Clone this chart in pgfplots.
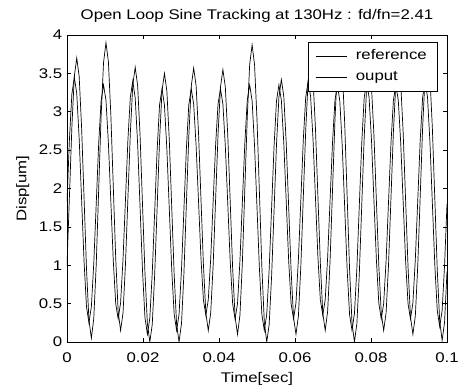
\documentclass[border=0pt]{standalone}
\usepackage{pgfplots}
\pgfplotsset{compat=1.18}
\usepackage{pgfplotstable}
\usepackage{fontspec}
\setmainfont{Liberation Sans}[FakeStretch=1.2]

\pgfplotstableread{
t ref out
0 1.83 1.00
0.000641 2.64 1.90
0.001282 3.23 2.80
0.001923 3.45 3.46
0.002564 3.24 3.70
0.003205 2.65 3.46
0.003846 1.85 2.79
0.004487 1.05 1.88
0.005128 0.46 0.96
0.005769 0.25 0.29
0.006410 0.46 0.05
0.007051 1.03 0.31
0.007692 1.80 1.01
0.008333 2.58 1.98
0.008974 3.14 2.94
0.009615 3.35 3.64
0.010256 3.15 3.90
0.010897 2.59 3.65
0.011538 1.83 2.96
0.012179 1.06 2.03
0.012821 0.50 1.09
0.013462 0.30 0.40
0.014103 0.51 0.15
0.014744 1.08 0.38
0.015385 1.85 1.01
0.016026 2.63 1.87
0.016667 3.19 2.72
0.017308 3.40 3.35
0.017949 3.18 3.58
0.018590 2.58 3.34
0.019231 1.75 2.69
0.019872 0.93 1.79
0.020513 0.32 0.90
0.021154 0.10 0.24
0.021795 0.31 0.00
0.022436 0.90 0.23
0.023077 1.70 0.88
0.023718 2.50 1.75
0.024359 3.09 2.63
0.025 3.30 3.27
0.025641 3.09 3.50
0.026282 2.51 3.27
0.026923 1.73 2.63
0.027564 0.94 1.75
0.028205 0.36 0.88
0.028846 0.15 0.23
0.029487 0.36 0.00
0.030128 0.94 0.24
0.030769 1.73 0.89
0.031410 2.51 1.79
0.032051 3.09 2.68
0.032692 3.30 3.33
0.033333 3.10 3.57
0.033974 2.56 3.34
0.034615 1.83 2.72
0.035256 1.09 1.86
0.035897 0.55 1.01
0.036538 0.35 0.38
0.037179 0.55 0.15
0.037821 1.09 0.38
0.038462 1.83 1.00
0.039103 2.56 1.85
0.039744 3.10 2.70
0.040385 3.30 3.32
0.041026 3.10 3.55
0.041667 2.55 3.32
0.042308 1.80 2.69
0.042949 1.05 1.83
0.043590 0.50 0.96
0.044231 0.30 0.33
0.044872 0.50 0.10
0.045513 1.06 0.35
0.046154 1.83 1.04
0.046795 2.59 1.99
0.047436 3.15 2.93
0.048077 3.35 3.62
0.048718 3.14 3.87
0.049359 2.55 3.61
0.05 1.75 2.90
0.050641 0.95 1.94
0.051282 0.36 0.97
0.051923 0.15 0.26
0.052564 0.36 0.00
0.053205 0.95 0.23
0.053846 1.75 0.86
0.054487 2.55 1.71
0.055128 3.14 2.57
0.055769 3.35 3.19
0.056410 3.15 3.42
0.057051 2.59 3.20
0.057692 1.83 2.59
0.058333 1.06 1.76
0.058974 0.50 0.93
0.059615 0.30 0.32
0.060256 0.51 0.10
0.060897 1.08 0.34
0.061538 1.85 0.99
0.062179 2.63 1.88
0.062821 3.19 2.76
0.063462 3.40 3.41
0.064103 3.20 3.65
0.064744 2.64 3.42
0.065385 1.88 2.78
0.066026 1.11 1.90
0.066667 0.55 1.03
0.067308 0.35 0.38
0.067949 0.55 0.15
0.068590 1.10 0.40
0.069231 1.85 1.06
0.069872 2.60 1.98
0.070513 3.15 2.89
0.071154 3.35 3.56
0.071795 3.14 3.80
0.072436 2.55 3.55
0.073077 1.75 2.85
0.073718 0.95 1.90
0.074359 0.36 0.95
0.075 0.15 0.25
0.075641 0.37 0.00
0.076282 0.96 0.24
0.076923 1.78 0.89
0.077564 2.59 1.78
0.078205 3.18 2.66
0.078846 3.40 3.31
0.079487 3.19 3.55
0.080128 2.63 3.32
0.080769 1.85 2.70
0.081410 1.08 1.85
0.082051 0.51 1.00
0.082692 0.30 0.38
0.083333 0.50 0.15
0.083974 1.06 0.38
0.084615 1.83 1.01
0.085256 2.59 1.88
0.085897 3.15 2.74
0.086538 3.35 3.37
0.087179 3.15 3.60
0.087821 2.59 3.37
0.088462 1.83 2.73
0.089103 1.06 1.85
0.089744 0.50 0.98
0.090385 0.30 0.33
0.091026 0.51 0.10
0.091667 1.08 0.34
0.092308 1.85 1.00
0.092949 2.63 1.90
0.093590 3.19 2.80
0.094231 3.40 3.46
0.094872 3.19 3.70
0.095513 2.60 3.45
0.096154 1.80 2.78
0.096795 1.00 1.86
0.097436 0.41 0.94
0.098077 0.20 0.27
0.098718 0.41 0.02
0.099359 1.00 0.26
0.1 1.80 0.92
}\datatable

\begin{document}
\fontsize{14}{17}\selectfont
\begin{tikzpicture}
\useasboundingbox (-67pt,-49pt) rectangle (395pt,342pt);
\begin{axis}[
  scale only axis,
  width=380pt, height=307pt,
  xmin=0, xmax=0.1, ymin=0, ymax=4,
  xtick={0,0.02,0.04,0.06,0.08,0.1},
  xticklabels={0,0.02,0.04,0.06,0.08,0.1},
  ytick={0,0.5,1,1.5,2,2.5,3,3.5,4},
  yticklabels={0,0.5,1,1.5,2,2.5,3,3.5,4},
  scaled x ticks=false, scaled y ticks=false,
  tick align=inside,
  major tick length=4pt,
  axis line style={line width=0.7pt},
  every tick/.style={black, line width=0.6pt},
  tick label style={font=\fontsize{14}{17}\selectfont},
  x tick label style={yshift=-6pt},
  label style={font=\fontsize{14}{17}\selectfont},
  title style={font=\fontsize{14}{17}\selectfont, yshift=2pt},
  title={Open Loop Sine Tracking at 130Hz : fd/fn=2.41},
  xlabel={Time[sec]},
  ylabel={Disp[um]},
  legend cell align=left,
  legend style={at={(0.974,0.978)}, anchor=north east, draw=black, line width=0.6pt,
    fill=white, font=\fontsize{14}{17}\selectfont, row sep=0pt,
    inner xsep=7pt, inner ysep=3.5pt,
    nodes={inner sep=3pt, text height=11pt, text depth=4pt},
    /tikz/every odd column/.append style={column sep=6pt}},
  legend image code/.code={\draw[#1] (0pt,0pt) -- (31pt,0pt);},
]
\addplot[black, line width=0.7pt] table[x=t, y=ref] {\datatable};
\addlegendentry{reference}
\addplot[black, line width=0.7pt] table[x=t, y=out] {\datatable};
\addlegendentry{ouput}
\end{axis}
\end{tikzpicture}
\end{document}
